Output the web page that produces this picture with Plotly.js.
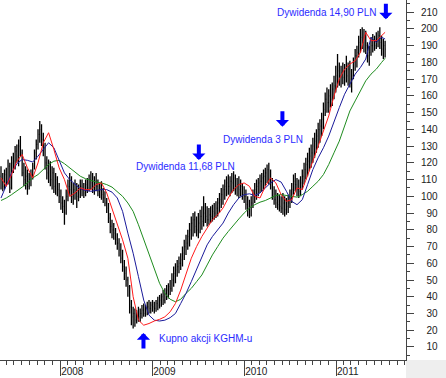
<!DOCTYPE html>
<html><head><meta charset="utf-8">
<script src="https://cdn.plot.ly/plotly-3.0.1.min.js"></script>
<style>html,body{margin:0;padding:0;background:#fff;}#chart{width:446px;height:378px;}</style>
</head><body><div id="chart"></div>
<script>
// Weekly bars, first week ending 2007-05-11
const firstWeek = '2007-05-11';
const barOpen = [
112,110,106,113,108,118,105,120,121,127,
124,130,126,114,110,112,106,110,113,118,
126,131,137,140,134,128,120,114,118,110,
114,106,110,104,100,96,94,90,100,106,
104,100,104,102,100,104,106,104,102,107,
105,110,108,106,109,106,103,104,101,99,
96,93,87,82,80,78,74,72,68,63,
58,54,50,46,34,28,30,26,29,28,
30,32,30,33,34,33,35,34,33,36,
35,38,40,38,42,44,46,45,50,54,
56,58,60,62,66,70,72,76,80,84,
86,82,80,84,88,85,90,88,86,89,
88,91,90,93,96,98,101,104,106,108,
106,109,108,111,105,107,104,106,101,100,
95,92,94,96,100,104,106,108,109,111,
112,114,116,110,108,100,98,96,95,94,
93,96,92,94,96,100,104,109,107,104,
103,108,112,116,119,121,124,126,130,133,
136,140,142,146,152,158,156,160,158,164,
166,172,175,172,174,171,175,172,176,170,
172,180,184,186,192,195,192,196,190,184,
186,190,193,190,194,196,192,188,190];
const barHigh = [
118,114,116,117,122,120,124,126,130,131,
134,136,128,120,118,116,114,116,120,128,
134,140,145,143,138,132,124,122,121,118,
117,114,112,108,104,100,98,104,110,114,
112,108,110,108,107,110,110,108,110,111,
113,115,114,112,114,110,108,109,105,103,
99,96,90,86,84,81,78,75,72,68,
62,58,52,47,38,34,33,32,34,33,
35,36,35,37,38,37,38,37,38,40,
41,42,44,45,47,48,50,54,58,60,
62,64,66,70,74,77,80,84,88,90,
91,88,90,92,94,100,96,94,93,94,
95,96,97,99,102,105,107,110,112,113,
112,114,115,113,111,112,110,108,106,104,
100,98,100,104,108,110,111,113,114,116,
117,119,120,116,111,106,104,102,101,100,
102,100,99,101,104,108,113,114,111,110,
112,116,120,123,126,129,131,135,138,140,
144,146,150,156,162,165,164,167,168,172,
178,185,180,178,180,179,184,180,181,176,
183,188,190,196,200,201,200,199,192,190,
195,197,196,198,199,201,196,194,193];
const barLow = [
104,103,104,106,107,102,104,114,116,120,
118,124,112,106,104,101,104,106,110,116,
122,128,132,130,124,116,110,108,106,104,
102,101,100,96,92,90,83,89,97,100,
96,95,98,93,97,99,100,99,100,102,
103,104,102,101,103,100,99,98,96,94,
90,84,78,75,74,71,68,64,60,55,
50,46,40,30,23,21,22,24,25,25,
27,28,28,29,30,30,31,30,31,32,
33,34,35,36,38,39,41,43,46,48,
52,54,56,58,62,65,68,70,74,76,
78,76,75,78,80,82,84,82,83,84,
85,86,87,88,90,93,95,98,100,101,
100,102,103,101,100,99,100,98,96,92,
88,87,88,93,96,98,100,102,103,104,
106,108,107,104,98,95,93,92,91,90,
89,88,89,90,93,96,101,103,100,99,
100,104,107,110,112,115,117,120,123,126,
129,132,136,140,148,150,150,153,154,158,
162,165,166,165,167,166,168,166,165,162,
170,175,177,183,186,188,186,185,180,178,
184,186,187,188,189,188,184,182,183];
const barClose = [
110,106,113,108,118,105,120,121,127,124,
130,126,114,110,112,106,110,113,118,126,
131,137,140,134,128,120,114,118,110,114,
106,110,104,100,96,94,90,100,106,104,
100,104,102,100,104,106,104,102,107,105,
110,108,106,109,106,103,104,101,99,96,
93,87,82,80,78,74,72,68,63,58,
54,50,46,34,28,30,26,29,28,30,
32,30,33,34,33,35,34,33,36,35,
38,40,38,42,44,46,45,50,54,56,
58,60,62,66,70,72,76,80,84,86,
82,80,84,88,85,90,88,86,89,88,
91,90,93,96,98,101,104,106,108,106,
109,108,111,105,107,104,106,101,100,95,
92,94,96,100,104,106,108,109,111,112,
114,116,110,108,100,98,96,95,94,93,
96,92,94,96,100,104,109,107,104,103,
108,112,116,119,121,124,126,130,133,136,
140,142,146,152,158,156,160,158,164,166,
172,175,172,174,171,175,172,176,170,172,
180,184,186,192,195,192,196,190,184,186,
190,193,190,194,196,192,188,190,188];

const maRed = [
111,106,113,121,125,117,111,120,132,138,
128,117,110,100,102,105,104,104,107,108,
102,93,83,74,63,40,26,23,24,25.5,
26.5,28,31,36,44,54,63,70,76,81,
86,89,93,99,104,107,108,106,100,99,
106,111,108,101,97,98,105,104,112,121,
130,139,148,160,170,176,179,181,186,198,
193,193,196,198];
const maBlue = [
99,106,114,119.5,122,121.5,120.5,124,128,132,
129,122,114,110,107,104.5,103.5,103,103.5,104,
104,102.5,99,91,78,66,52,38,29,26,
25.5,26,27.5,30,36,42,49,56,64,71,
76,80,84,90,95,99,101,101.5,100.5,102,
105,108,110,108.5,103,97,95,98,107,116,
123,129,136,145,153,161,167,173,177,182,
195,192,195,194];
const maGreen = [
97.5,99,101,103,105.5,108,111,113,116,119,
121,121.5,119.5,117,114,112,110.5,109.5,108.5,108,
107,105.5,103,100,96,91,83,74,65,57,
48,42,38.5,37,38.5,42,45,49,53,59,
65,70,75,79,83,86.5,90,93,95,96.5,
97.5,99,100.5,101,100.5,100,99.5,101,103,106,
109,113,119,126,133,142,151,157,163,169,
173,176,180,182.5];

const yTickVals = [10,20,30,40,50,60,70,80,90,100,110,120,130,140,150,160,170,180,190,200,210];
const notes = [
  {text:'Dywidenda 11,68 PLN', date:'2009-07-05', price:121.7, dir:'down'},
  {text:'Dywidenda 3 PLN', date:'2010-06-02', price:141.6, dir:'down'},
  {text:'Dywidenda 14,90 PLN', date:'2011-07-18', price:205.8, dir:'down'},
  {text:'Kupno akcji KGHM-u', date:'2008-11-27', price:18.3, dir:'up'}
];
// label positions (left edge date, vertical centre price)
const noteLabelPos = [
  ['2008-10-25', 118.1],
  ['2009-10-05', 133.7],
  ['2010-05-06', 209.9],
  ['2009-01-25', 14.8]
];

const t0 = Date.UTC(2007, 4, 11);
const barDates = barClose.map((_, i) => new Date(t0 + i * 7 * 86400000).toISOString().slice(0, 10));
const maIdx = [];
for (let k = 0; k * 3 < barClose.length - 2; k++) maIdx.push(k * 3);
maIdx.push(barClose.length - 1);
const maDates = maIdx.map(i => barDates[i]);

const traces = [
  {type:'ohlc', x:barDates, open:barOpen, high:barHigh, low:barLow, close:barClose,
   increasing:{line:{color:'#000', width:1.3}}, decreasing:{line:{color:'#000', width:1.3}},
   tickwidth:0.4, hoverinfo:'skip'},
  {type:'scatter', mode:'lines', x:maDates, y:maGreen, line:{color:'#1f8c1f', width:1}, hoverinfo:'skip'},
  {type:'scatter', mode:'lines', x:maDates, y:maBlue, line:{color:'#1a1a9a', width:1}, hoverinfo:'skip'},
  {type:'scatter', mode:'lines', x:maDates, y:maRed, line:{color:'#ff1a1a', width:1}, hoverinfo:'skip'}
];

const annotations = [];
notes.forEach((n, i) => {
  annotations.push({x:n.date, y:n.price, xref:'x', yref:'y', text:'', showarrow:true,
    ax:0, ay:(n.dir === 'down' ? -17 : 17), arrowhead:1, arrowsize:0.55, arrowwidth:4,
    arrowcolor:'#0000ff', standoff:0});
  annotations.push({x:noteLabelPos[i][0], y:noteLabelPos[i][1], xref:'x', yref:'y', text:n.text,
    showarrow:false, xanchor:'left', yanchor:'middle', borderpad:0,
    font:{family:'Liberation Sans, Arial, sans-serif', size:10, color:'#2b2bff'}});
});

const axisColor = '#444';
const layout = {
  width:446, height:378,
  margin:{l:0, r:40, t:0, b:18, pad:0},
  paper_bgcolor:'#ffffff', plot_bgcolor:'#ffffff',
  showlegend:false, hovermode:false,
  font:{family:'Liberation Sans, Arial, sans-serif', size:10, color:'#222'},
  xaxis:{type:'date', range:['2007-05-07','2011-10-06'], rangeslider:{visible:false},
    showgrid:false, zeroline:false, showline:true, linecolor:axisColor, linewidth:1,
    ticks:'outside', ticklen:15, tickcolor:axisColor, tickwidth:1,
    tick0:'2008-01-01', dtick:'M12', tickformat:'%Y',
    ticklabelposition:'outside right', ticklabelstandoff:2,
    tickfont:{size:10, color:'#222'},
    minor:{dtick:'M1', tick0:'2008-01-01', ticks:'outside', ticklen:4, tickcolor:axisColor, showgrid:false},
    fixedrange:true},
  yaxis:{side:'right', range:[2.2, 217.3], showgrid:false, zeroline:false,
    showline:true, linecolor:axisColor, linewidth:1,
    ticks:'outside', ticklen:7, tickcolor:axisColor, tickwidth:1,
    tickmode:'array', tickvals:yTickVals,
    ticktext:yTickVals.map(v => (v < 100 ? '\u00a0\u00a0' : '') + v),
    ticklabelstandoff:5,
    tickfont:{size:10, color:'#222'},
    minor:{dtick:5, tick0:0, ticks:'outside', ticklen:3, tickcolor:axisColor, showgrid:false},
    fixedrange:true},
  shapes:[{type:'rect', xref:'paper', yref:'paper', x0:1, x1:446/406, y0:-18/360, y1:0,
    fillcolor:'#eeeeee', line:{width:0}, layer:'below'}],
  annotations:annotations
};

Plotly.newPlot('chart', traces, layout, {displayModeBar:false, staticPlot:true});
</script>
</body></html>
